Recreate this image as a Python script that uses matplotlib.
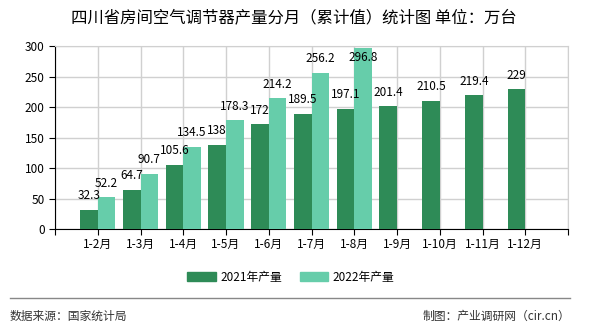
import numpy as np
import matplotlib.pyplot as plt
from matplotlib.patches import Patch

plt.rcParams['font.family'] = ['Noto Sans CJK SC', 'DejaVu Sans']

# Data
months = ["1-2月", "1-3月", "1-4月", "1-5月", "1-6月", "1-7月", "1-8月",
          "1-9月", "1-10月", "1-11月", "1-12月"]
prod_2021 = [32.3, 64.7, 105.6, 138, 172, 189.5, 197.1, 201.4, 210.5, 219.4, 229]
prod_2022 = [52.2, 90.7, 134.5, 178.3, 214.2, 256.2, 296.8]

c2021 = "#2e8b57"
c2022 = "#66cdaa"

fig = plt.figure(figsize=(5.9, 3.3), dpi=100)
ax = fig.add_axes([55 / 590, 1 - 229.3 / 330, 513 / 590, 183.3 / 330])

w = 0.41
x21 = np.arange(1, len(prod_2021) + 1)
x22 = np.arange(1, len(prod_2022) + 1)
ax.bar(x21 - w / 2, prod_2021, width=w, color=c2021, zorder=3)
ax.bar(x22 + w / 2, prod_2022, width=w, color=c2022, zorder=3)

ymax = 300


def put_label(xi, v):
    # labels that would leave the plot area are pushed inside (like the original)
    if v > ymax - 15:
        ax.annotate(f"{v:g}", (xi, v), xytext=(0, -2), textcoords="offset points",
                    ha="center", va="top", fontsize=8.5, zorder=4)
    else:
        ax.annotate(f"{v:g}", (xi, v), xytext=(0, 5.5), textcoords="offset points",
                    ha="center", va="bottom", fontsize=8.5, zorder=4)


for xi, v in zip(x21 - w / 2, prod_2021):
    put_label(xi, v)
for xi, v in zip(x22 + w / 2, prod_2022):
    put_label(xi, v)

ax.set_xlim(0, 12)
ax.set_ylim(0, ymax)
ax.set_yticks(range(0, 301, 50))
ax.set_xticks(range(0, 13))
ax.set_xticklabels([""] + months + [""])
ax.tick_params(axis="both", labelsize=8.5, length=4, color="black")
ax.tick_params(axis="x", pad=2)

ax.grid(True, color="#d0d0d0", linewidth=1, zorder=0)
ax.spines["top"].set_color("#d0d0d0")
ax.spines["right"].set_color("#d0d0d0")
ax.spines["left"].set_color("black")
ax.spines["bottom"].set_color("black")

# title
fig.text(293.5 / 590, 1 - 17.5 / 330, "四川省房间空气调节器产量分月（累计值）统计图 单位：万台",
         ha="center", va="center", fontsize=11.8)

# legend
handles = [Patch(color=c2021, label="2021年产量"), Patch(color=c2022, label="2022年产量")]
fig.legend(handles=handles, loc="center", bbox_to_anchor=(291 / 590, 1 - 277 / 330), ncol=2,
           frameon=False, fontsize=8.5, handlelength=2.4, handleheight=0.9,
           columnspacing=1.5, handletextpad=0.4)

# footer
fig.add_artist(plt.Line2D([10 / 590, 570 / 590], [1 - 298 / 330] * 2, color="#888888", linewidth=1))
fig.text(10 / 590, 1 - 316.5 / 330, "数据来源：国家统计局", ha="left", va="center", fontsize=8.5, color="#333333")
fig.text(570 / 590, 1 - 316.5 / 330, "制图：产业调研网（cir.cn）", ha="right", va="center", fontsize=8.5, color="#333333")

fig.savefig("out.png", dpi=100)
